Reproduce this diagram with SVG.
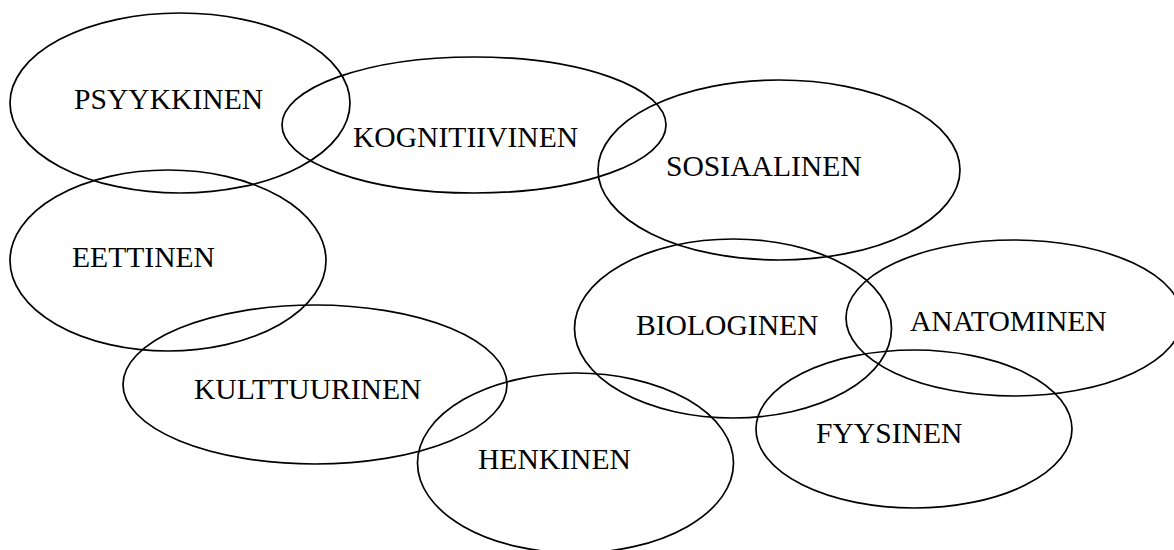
<svg xmlns="http://www.w3.org/2000/svg" width="1174" height="550" viewBox="0 0 1174 550">
<style>
.e{fill:none;stroke:#000;stroke-width:1.7}
.t{font-family:"Liberation Serif","Times New Roman",serif;font-size:29.6px;fill:#000}
</style>
<rect width="1174" height="550" fill="#fff"/>
<g id="psyykkinen"><ellipse class="e" cx="180" cy="103" rx="170" ry="90"/><text class="t" x="74" y="109">PSYYKKINEN</text></g>
<g id="kognitiivinen"><ellipse class="e" cx="474" cy="125" rx="192" ry="68"/><text class="t" x="353" y="147">KOGNITIIVINEN</text></g>
<g id="sosiaalinen"><ellipse class="e" cx="779" cy="170" rx="181" ry="90"/><text class="t" x="666" y="176">SOSIAALINEN</text></g>
<g id="eettinen"><ellipse class="e" cx="168" cy="260.5" rx="158" ry="90.5"/><text class="t" x="72" y="267">EETTINEN</text></g>
<g id="biologinen"><ellipse class="e" cx="733" cy="328.5" rx="158.5" ry="89.5"/><text class="t" x="636" y="335">BIOLOGINEN</text></g>
<g id="anatominen"><ellipse class="e" cx="1014" cy="318" rx="168" ry="78"/><text class="t" x="910" y="331">ANATOMINEN</text></g>
<g id="kulttuurinen"><ellipse class="e" cx="315" cy="384.5" rx="192" ry="79.5"/><text class="t" x="194" y="399">KULTTUURINEN</text></g>
<g id="henkinen"><ellipse class="e" cx="575.5" cy="463" rx="158" ry="90"/><text class="t" x="478" y="469">HENKINEN</text></g>
<g id="fyysinen"><ellipse class="e" cx="914" cy="429" rx="158" ry="79"/><text class="t" x="816" y="443">FYYSINEN</text></g>
<g id="connectors"></g>
</svg>
